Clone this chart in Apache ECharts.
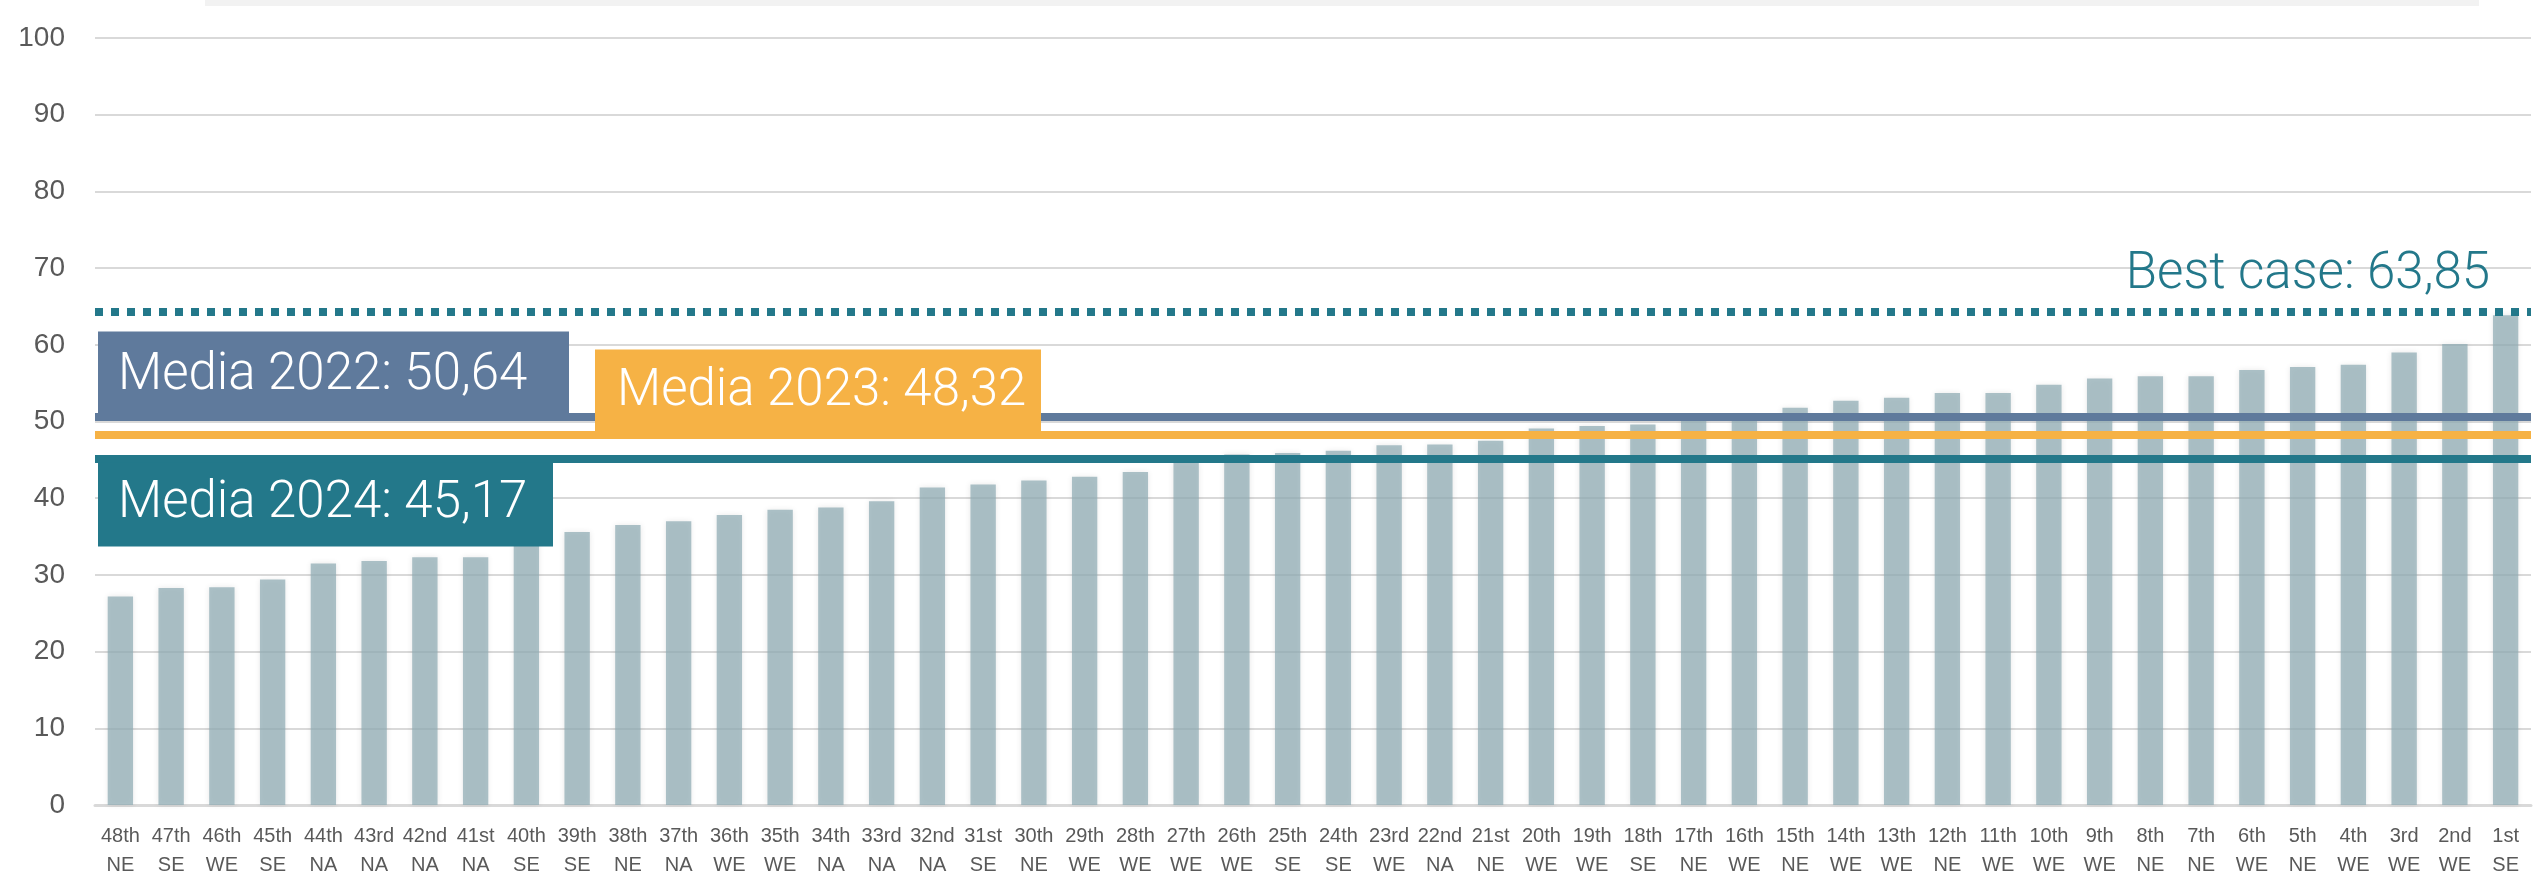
<!DOCTYPE html>
<html lang="en">

<head>
    <meta charset="UTF-8">
    <title>Ranking</title>
    <script src="https://cdn.jsdelivr.net/npm/echarts@6/dist/echarts.min.js"></script>
    <style>
        body { margin: 0; background: #fff; }
        #chart_show { width: 2535px; height: 880px; }
    </style>
</head>

<body>
    <div id="chart_show"></div>

    <script>
        // ranks, left to right
        let rankArr = ['48th', '47th', '46th', '45th', '44th', '43rd', '42nd', '41st', '40th', '39th', '38th', '37th',
            '36th', '35th', '34th', '33rd', '32nd', '31st', '30th', '29th', '28th', '27th', '26th', '25th',
            '24th', '23rd', '22nd', '21st', '20th', '19th', '18th', '17th', '16th', '15th', '14th', '13th',
            '12th', '11th', '10th', '9th', '8th', '7th', '6th', '5th', '4th', '3rd', '2nd', '1st'];
        let regionArr = ['NE', 'SE', 'WE', 'SE', 'NA', 'NA', 'NA', 'NA', 'SE', 'SE', 'NE', 'NA',
            'WE', 'WE', 'NA', 'NA', 'NA', 'SE', 'NE', 'WE', 'WE', 'WE', 'WE', 'SE',
            'SE', 'WE', 'NA', 'NE', 'WE', 'WE', 'SE', 'NE', 'WE', 'NE', 'WE', 'WE',
            'NE', 'WE', 'WE', 'WE', 'NE', 'NE', 'WE', 'NE', 'WE', 'WE', 'WE', 'SE'];
        let scoreArr = [27.2, 28.3, 28.4, 29.4, 31.5, 31.8, 32.3, 32.3, 34.3, 35.6, 36.5, 37.0,
            37.8, 38.5, 38.8, 39.6, 41.4, 41.8, 42.3, 42.8, 43.4, 44.6, 45.7, 45.9,
            46.2, 46.9, 47.0, 47.5, 49.1, 49.4, 49.6, 50.4, 50.6, 51.8, 52.7, 53.1,
            53.7, 53.7, 54.8, 55.6, 55.9, 55.9, 56.7, 57.1, 57.4, 59.0, 60.1, 63.85];

        // yearly averages
        let avgYears = ['2022', '2023', '2024'];
        let avgValues = [50.64, 48.32, 45.17];
        let avgColors = ['#5f7a9c', '#f6b245', '#23788a'];

        // best case (the dotted line sits just above the top bar)
        let bestCase = 63.85;
        let bestLineLevel = 64.3;

        let yTicks = [0, 10, 20, 30, 40, 50, 60, 70, 80, 90, 100];

        let teal = '#23788a';
        let boxFont = 'Roboto, "Liberation Sans", sans-serif';

        function fmt(v) {
            return v.toFixed(2).replace('.', ',');
        }

        // one label box per average line
        function avgLabel(i, position, distance, height, width, padLeft) {
            return {
                show: true,
                position: position,
                distance: distance,
                formatter: 'Media ' + avgYears[i] + ': ' + fmt(avgValues[i]),
                color: '#fff',
                fontFamily: boxFont,
                fontWeight: 300,
                fontSize: 51,
                lineHeight: height,
                width: width,
                padding: [0, 0, 0, padLeft],
                backgroundColor: avgColors[i]
            };
        }

        function chart_show() {
            let myEchart = echarts.init(document.querySelector('#chart_show'));
            let catArr = rankArr.map((r, i) => r + '\n' + regionArr[i]);
            let option = {
                animation: false,
                grid: {
                    left: 95,
                    right: 4,
                    top: 38,
                    bottom: 75
                },
                graphic: [{
                    // pale band on top
                    type: 'rect',
                    left: 205,
                    top: 0,
                    shape: { width: 2274, height: 6 },
                    style: { fill: '#f2f2f2' }
                }],
                xAxis: {
                    type: 'category',
                    data: catArr,
                    axisTick: { show: false },
                    axisLine: { lineStyle: { color: '#d9d9d9', width: 3 } },
                    axisLabel: {
                        interval: 0,
                        margin: 17,
                        color: '#595959',
                        fontFamily: '"Liberation Sans", sans-serif',
                        fontSize: 20,
                        lineHeight: 29
                    }
                },
                yAxis: {
                    type: 'value',
                    min: yTicks[0],
                    max: yTicks[yTicks.length - 1],
                    interval: yTicks[1] - yTicks[0],
                    axisLine: { show: false },
                    axisTick: { show: false },
                    axisLabel: {
                        margin: 30,
                        color: '#595959',
                        fontFamily: '"Liberation Sans", sans-serif',
                        fontSize: 28
                    },
                    splitLine: { lineStyle: { color: '#d9d9d9', width: 2 } }
                },
                series: [{
                    type: 'bar',
                    data: scoreArr,
                    barWidth: '50%',
                    itemStyle: {
                        color: 'rgba(146,174,182,0.75)',
                        shadowBlur: 6,
                        shadowColor: 'rgba(0,0,0,0.12)'
                    },
                    markLine: {
                        silent: true,
                        symbol: 'none',
                        animation: false,
                        data: [
                            {
                                yAxis: bestLineLevel,
                                lineStyle: { color: teal, width: 8, type: [8, 8] },
                                label: {
                                    show: true,
                                    position: 'insideEndTop',
                                    distance: [41, 12],
                                    formatter: 'Best case: ' + fmt(bestCase),
                                    color: teal,
                                    fontFamily: boxFont,
                                    fontWeight: 300,
                                    fontSize: 51,
                                    lineHeight: 50
                                }
                            },
                            {
                                yAxis: avgValues[0],
                                lineStyle: { color: avgColors[0], width: 8, type: 'solid' },
                                label: avgLabel(0, 'insideStartTop', [3, -4], 89, 451, 20)
                            },
                            {
                                yAxis: avgValues[1],
                                lineStyle: { color: avgColors[1], width: 8, type: 'solid' },
                                label: avgLabel(1, 'insideStartTop', [500, 0], 85, 424, 22)
                            },
                            {
                                yAxis: avgValues[2],
                                lineStyle: { color: avgColors[2], width: 8, type: 'solid' },
                                label: avgLabel(2, 'insideStartBottom', [3, 4], 84, 435, 20)
                            }
                        ]
                    }
                }]
            };
            myEchart.setOption(option);
        }

        chart_show();
    </script>
</body>

</html>
